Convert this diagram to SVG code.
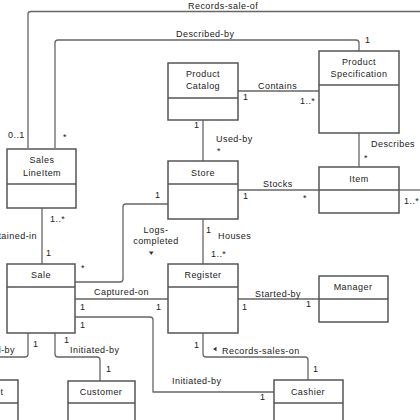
<svg xmlns="http://www.w3.org/2000/svg" width="420" height="420" viewBox="0 0 420 420">
<style>
.box{fill:#fff;stroke:#555;stroke-width:1.5}
.div{stroke:#555;stroke-width:1.3}
.ln{fill:none;stroke:#666;stroke-width:1.3;stroke-linejoin:round}
text{font-family:"Liberation Sans",Arial,sans-serif;font-size:9px;fill:#222;letter-spacing:0.45px}
.c{text-anchor:middle}
.e{text-anchor:end}
.tri{fill:#333}
</style>
<rect width="420" height="420" fill="#fff"/>
<g id="connectors">
<path class="ln" d="M28,148 V14 Q28,11.5 31,11.5 H420"/>
<text x="188" y="9">Records-sale-of</text>
<path class="ln" d="M55,148 V43 Q55,40 58,40 H356 Q359,40 359,43 V51"/>
<text x="176" y="37">Described-by</text>
<text x="365" y="43">1</text>
<text x="8" y="138">0..1</text>
<text x="63" y="140">*</text>
<path class="ln" d="M238,91 H319"/>
<text x="258" y="89">Contains</text>
<text x="243" y="100">1</text>
<text x="300" y="104">1..*</text>
<path class="ln" d="M203,120 V161"/>
<text x="194" y="128">1</text>
<text x="216" y="142">Used-by</text>
<text x="217" y="154">*</text>
<path class="ln" d="M359,133 V167"/>
<text x="371" y="147">Describes</text>
<text x="364" y="161">*</text>
<path class="ln" d="M238,190 H319"/>
<text x="263" y="187">Stocks</text>
<text x="243" y="199">1</text>
<text x="303" y="201">*</text>
<path class="ln" d="M399,190 H420"/>
<text x="404" y="204">1..*</text>
<path class="ln" d="M42,208 V264"/>
<text x="50" y="222">1..*</text>
<text x="46" y="256">1</text>
<text class="e" x="37" y="239">Contained-in</text>
<path class="ln" d="M168,204 H126 Q123,204 123,207 V279 Q123,282 120,282 H75"/>
<text x="155" y="198">1</text>
<text class="c" x="156" y="233">Logs-</text>
<text class="c" x="156" y="244">completed</text>
<path class="tri" d="M149,251.5 L153.5,251.5 L151.25,255 Z"/>
<text x="81" y="271">*</text>
<path class="ln" d="M203,219 V264"/>
<text x="206" y="233">1</text>
<text x="218" y="239">Houses</text>
<text x="211" y="257">1..*</text>
<path class="ln" d="M75,299 H168"/>
<text x="94" y="295">Captured-on</text>
<text x="80" y="310">1</text>
<text x="156" y="310">1</text>
<path class="ln" d="M238,299 H319"/>
<text x="255" y="297">Started-by</text>
<text x="242" y="310">1</text>
<text x="306" y="307">1</text>
<path class="ln" d="M75,317 H150 Q153,317 153,320 V392 H274"/>
<text x="80" y="328">1</text>
<text x="172" y="384">Initiated-by</text>
<text x="260" y="400">1</text>
<path class="ln" d="M203,333 V354 Q203,357 206,357 H305 Q308,357 308,360 V380"/>
<text x="194" y="348">1</text>
<path class="tri" d="M213,349 L216.5,346.8 L216.5,351.2 Z"/>
<text x="222" y="354">Records-sales-on</text>
<text x="313" y="372">1</text>
<path class="ln" d="M55,333 V354 Q55,357 58,357 H97 Q100,357 100,360 V381"/>
<text x="64" y="343">1</text>
<text x="70" y="353">Initiated-by</text>
<text x="106" y="372">1</text>
<path class="ln" d="M28,333 V354 Q28,357 25,357 H0"/>
<text x="33" y="347">1</text>
<text class="e" x="15" y="353">Paid-by</text>
</g>
<g id="product-catalog">
<rect class="box" x="168" y="63" width="70" height="57"/>
<line class="div" x1="168" y1="98" x2="238" y2="98"/>
<text class="c" x="203" y="77">Product</text>
<text class="c" x="203" y="89">Catalog</text>
</g>
<g id="product-specification">
<rect class="box" x="319" y="51" width="80" height="82"/>
<line class="div" x1="319" y1="85" x2="399" y2="85"/>
<text class="c" x="359" y="65">Product</text>
<text class="c" x="359" y="77">Specification</text>
</g>
<g id="sales-lineitem">
<rect class="box" x="7" y="149" width="69" height="59"/>
<line class="div" x1="7" y1="184" x2="76" y2="184"/>
<text class="c" x="42" y="163">Sales</text>
<text class="c" x="42" y="176">LineItem</text>
</g>
<g id="store">
<rect class="box" x="168" y="161" width="70" height="58"/>
<line class="div" x1="168" y1="184" x2="238" y2="184"/>
<text class="c" x="203" y="176">Store</text>
</g>
<g id="item">
<rect class="box" x="319" y="167" width="80" height="46"/>
<line class="div" x1="319" y1="190" x2="399" y2="190"/>
<text class="c" x="359" y="182">Item</text>
</g>
<g id="sale">
<rect class="box" x="7" y="264" width="68" height="69"/>
<line class="div" x1="7" y1="287" x2="75" y2="287"/>
<text class="c" x="41" y="278">Sale</text>
</g>
<g id="register">
<rect class="box" x="168" y="264" width="70" height="69"/>
<line class="div" x1="168" y1="287" x2="238" y2="287"/>
<text class="c" x="203" y="278">Register</text>
</g>
<g id="manager">
<rect class="box" x="319" y="276" width="69" height="46"/>
<line class="div" x1="319" y1="299" x2="388" y2="299"/>
<text class="c" x="353" y="290">Manager</text>
</g>
<g id="payment">
<rect class="box" x="-50" y="380" width="68" height="60"/>
<line class="div" x1="-50" y1="403" x2="18" y2="403"/>
<text class="c" x="-16" y="395">Payment</text>
</g>
<g id="customer">
<rect class="box" x="68" y="381" width="67" height="60"/>
<line class="div" x1="68" y1="403" x2="135" y2="403"/>
<text class="c" x="101" y="395">Customer</text>
</g>
<g id="cashier">
<rect class="box" x="274" y="380" width="69" height="60"/>
<line class="div" x1="274" y1="403" x2="343" y2="403"/>
<text class="c" x="308" y="395">Cashier</text>
</g>
</svg>
